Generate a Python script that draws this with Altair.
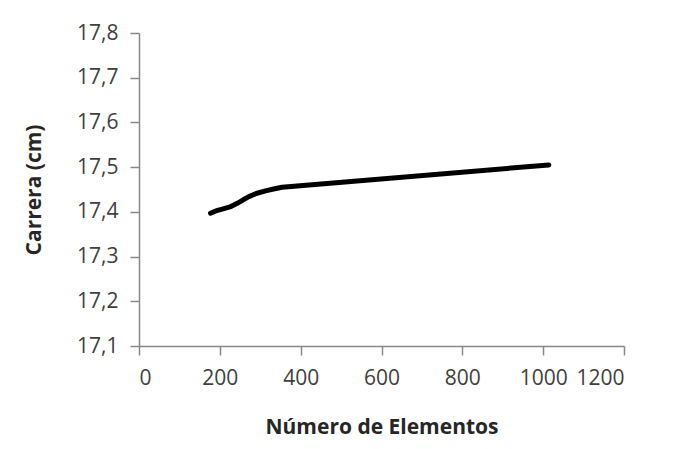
import altair as alt
import pandas as pd

elementos = [177, 190, 206, 225, 243, 258, 272, 290, 313, 333, 354, 1014]
carrera = [17.397, 17.402, 17.406, 17.411, 17.419, 17.427, 17.434, 17.441, 17.447, 17.451, 17.455, 17.505]

df = pd.DataFrame({"elementos": elementos, "carrera": carrera})

label_font = "Open Sans"

chart = alt.Chart(df).mark_line(
    color="black", strokeWidth=5, strokeCap="round", strokeJoin="round", interpolate="linear"
).encode(
    x=alt.X("elementos:Q",
            scale=alt.Scale(domain=[0, 1200], nice=False, zero=False),
            axis=alt.Axis(values=[0, 200, 400, 600, 800, 1000, 1200], format="d",
                          title="Número de Elementos", titlePadding=28,
                          labelPadding=12)),
    y=alt.Y("carrera:Q",
            scale=alt.Scale(domain=[17.1, 17.8], nice=False, zero=False),
            axis=alt.Axis(values=[17.1, 17.2, 17.3, 17.4, 17.5, 17.6, 17.7, 17.8],
                          labelExpr="replace(format(datum.value, '.1f'), '.', ',')",
                          title="Carrera (cm)", titlePadding=32,
                          labelPadding=12)),
).properties(
    width=485, height=313,
    autosize=alt.AutoSizeParams(type="none"),
    padding={"left": 131, "top": 25, "right": 50, "bottom": 100},
).configure_axis(
    grid=False,
    domainColor="#888888", domainWidth=1.5,
    tickColor="#888888", tickWidth=1.5, tickSize=9,
    labelFont=label_font, labelFontSize=21, labelColor="#404040",
    titleFont=label_font, titleFontSize=21, titleFontWeight="bold", titleColor="#262626",
).configure_view(stroke=None)

chart.save("out.html", embed_options={"renderer": "svg", "actions": False})
